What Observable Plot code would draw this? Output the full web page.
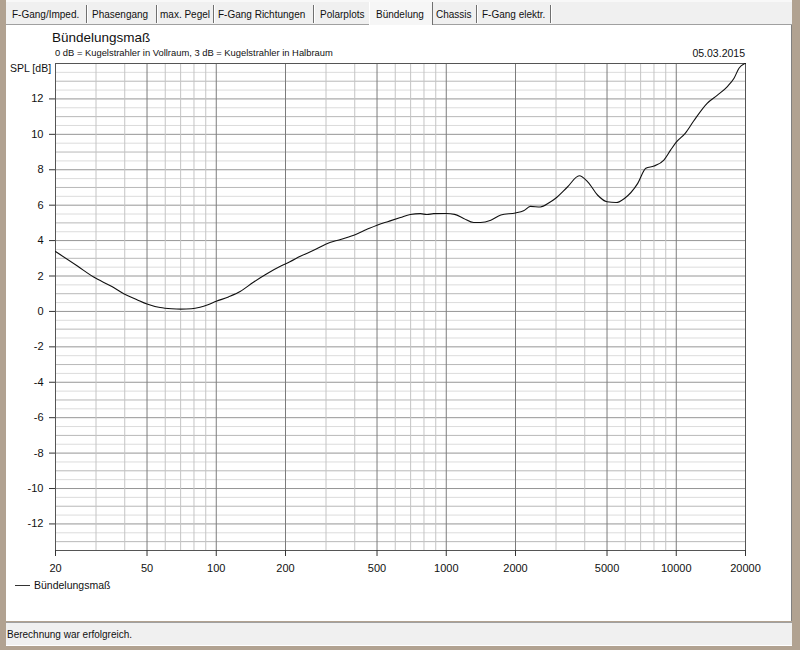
<!DOCTYPE html>
<html>
<head>
<meta charset="utf-8">
<script src="https://cdn.jsdelivr.net/npm/d3@7"></script>
<script src="https://cdn.jsdelivr.net/npm/@observablehq/plot@0.6"></script>
<style>
  html, body { margin: 0; padding: 0; }
  body { width: 800px; height: 650px; position: relative; overflow: hidden; background: #b1a291; font-family: "Liberation Sans", Arial, sans-serif; color: #000; }
  .abs { position: absolute; white-space: nowrap; }
  #tabbar { left: 6px; top: 0; width: 786px; background: #f0f0f0; border-bottom: 1px solid #a0a0a0; border-top: 2px solid #f8f8f8; box-sizing: border-box; height: 25px; }
  #tabbar .tab { position: absolute; top: 7px; font-size: 10px; color: #111; }
  #tabbar .sep { position: absolute; top: 3px; width: 1px; height: 18px; background: #707070; border-right: 1px solid #fff; }
  #active { position: absolute; left: 363px; top: 0px; width: 62px; height: 23px; background: #f6f6f6; border-left: 1px solid #fff; border-right: 1px solid #707070; }
  #content { left: 6px; top: 25px; width: 785px; height: 596px; background: #fff; border-right: 1px solid #808080; }
  #status { left: 6px; top: 622px; width: 786px; height: 22px; background: #f0f0f0; border-top: 1px solid #a0a0a0; border-bottom: 1px solid #fff; }
  #status span { position: absolute; left: 1px; top: 6px; font-size: 10px; color: #111; }
  #chart { position: absolute; left: 0; top: 0; }
  .txt { color: #111; }
</style>
</head>
<body>
<div id="tabbar" class="abs"></div>
<div id="content" class="abs"></div>
<div id="status" class="abs"><span>Berechnung war erfolgreich.</span></div>
<div id="chart"></div>
<div class="abs txt" style="left:52px; top:30px; font-size:13.5px;">Bündelungsmaß</div>
<div class="abs txt" style="left:55px; top:47px; font-size:9.4px;">0 dB = Kugelstrahler in Vollraum, 3 dB = Kugelstrahler in Halbraum</div>
<div class="abs txt" style="right:55px; top:47px; font-size:10.5px;">05.03.2015</div>
<div class="abs txt" style="left:10px; top:62px; font-size:10.5px;">SPL [dB]</div>
<div class="abs" style="left:15px; top:585px; width:15px; height:1px; background:#333;"></div>
<div class="abs txt" style="left:34px; top:579px; font-size:10.5px;">Bündelungsmaß</div>
<script>
// ---- data ----
const tabs = ["F-Gang/Imped.", "Phasengang", "max. Pegel", "F-Gang Richtungen", "Polarplots", "Bündelung", "Chassis", "F-Gang elektr."];
const freq = [20, 25, 29.3, 35, 39.6, 45, 50, 57, 64, 70, 78, 85, 92, 100, 113, 127, 145, 166, 190, 209, 232, 265, 299, 350, 404, 450, 500, 560, 632, 697, 772, 824, 880, 1000, 1087, 1190, 1316, 1410, 1562, 1727, 2000, 2168, 2322, 2565, 2810, 2981, 3372, 3786, 4120, 4555, 5000, 5480, 5953, 6800, 7374, 8000, 8834, 9446, 10000, 10960, 11900, 13620, 15060, 16680, 17830, 18740, 19600, 20000];
const spl = [3.38, 2.55, 1.94, 1.42, 1.0, 0.68, 0.42, 0.22, 0.15, 0.13, 0.15, 0.24, 0.38, 0.57, 0.82, 1.12, 1.65, 2.13, 2.55, 2.8, 3.11, 3.45, 3.8, 4.08, 4.35, 4.62, 4.87, 5.08, 5.3, 5.47, 5.52, 5.47, 5.52, 5.53, 5.48, 5.25, 5.02, 5.02, 5.15, 5.45, 5.56, 5.68, 5.93, 5.9, 6.15, 6.38, 7.04, 7.66, 7.32, 6.56, 6.19, 6.15, 6.38, 7.23, 8.08, 8.21, 8.55, 9.11, 9.56, 10.07, 10.75, 11.75, 12.2, 12.7, 13.17, 13.73, 13.96, 14.0];
const xTicks = [20, 50, 100, 200, 500, 1000, 2000, 5000, 10000, 20000];
const xMinor = [30, 40, 60, 70, 80, 90, 300, 400, 600, 700, 800, 900, 3000, 4000, 6000, 7000, 8000, 9000];
const yTicks = [12, 10, 8, 6, 4, 2, 0, -2, -4, -6, -8, -10, -12];
const yOdd = [13, 11, 9, 7, 5, 3, 1, -1, -3, -5, -7, -9, -11, -13];
const yHalf = d3.range(-13.5, 14.01, 1);

// ---- tab bar ----
const tabPos = [[12, 86], [92, 156], [160, 213], [218, 313], [320, 367], [376, 431], [436, 476], [482, 550]];
const bar = document.getElementById("tabbar");
const act = document.createElement("div"); act.id = "active"; bar.appendChild(act);
tabs.forEach((t, i) => {
  const s = document.createElement("span"); s.className = "tab"; s.textContent = t;
  s.style.left = (tabPos[i][0] - 6) + "px"; bar.appendChild(s);
  if (i !== 4 && i !== 5) { const sp = document.createElement("div"); sp.className = "sep"; sp.style.left = (tabPos[i][1] - 6) + "px"; bar.appendChild(sp); }
});

const data = freq.map((f, i) => ({f, spl: spl[i]}));
const fmtY = d => (d < 0 ? "-" + Math.abs(d) : String(d));

const chart = Plot.plot({
  width: 800, height: 590,
  marginLeft: 55, marginRight: 55, marginTop: 63, marginBottom: 40,
  style: {background: "transparent", fontFamily: "'Liberation Sans', Arial, sans-serif", fontSize: "11px", color: "#111", overflow: "visible"},
  x: {type: "log", domain: [20, 20000], label: null},
  y: {domain: [-13.5, 14], label: null},
  marks: [
    Plot.ruleY(yHalf, {stroke: "#dcdcdc"}),
    Plot.ruleY(yOdd, {stroke: "#b8b8b8"}),
    Plot.ruleY(yTicks, {stroke: "#969696"}),
    Plot.ruleX(xMinor, {stroke: "#c4c4c4"}),
    Plot.ruleX(xTicks, {stroke: "#7c7c7c"}),
    Plot.frame({stroke: "#555"}),
    Plot.line(data, {x: "f", y: "spl", stroke: "#111", strokeWidth: 1.1, curve: "monotone-x"}),
    Plot.axisX({ticks: xTicks, tickFormat: () => "", tickSize: 6, stroke: "#333", label: null}),
    Plot.text(xTicks, {x: d => d, frameAnchor: "bottom", dy: 18, lineAnchor: "middle", text: d => String(d), fontSize: 11, fill: "#111"}),
    Plot.axisY({ticks: yTicks, tickFormat: fmtY, tickSize: 6, tickPadding: 6, stroke: "#333", label: null})
  ]
});
document.getElementById("chart").appendChild(chart);
</script>
</body>
</html>
